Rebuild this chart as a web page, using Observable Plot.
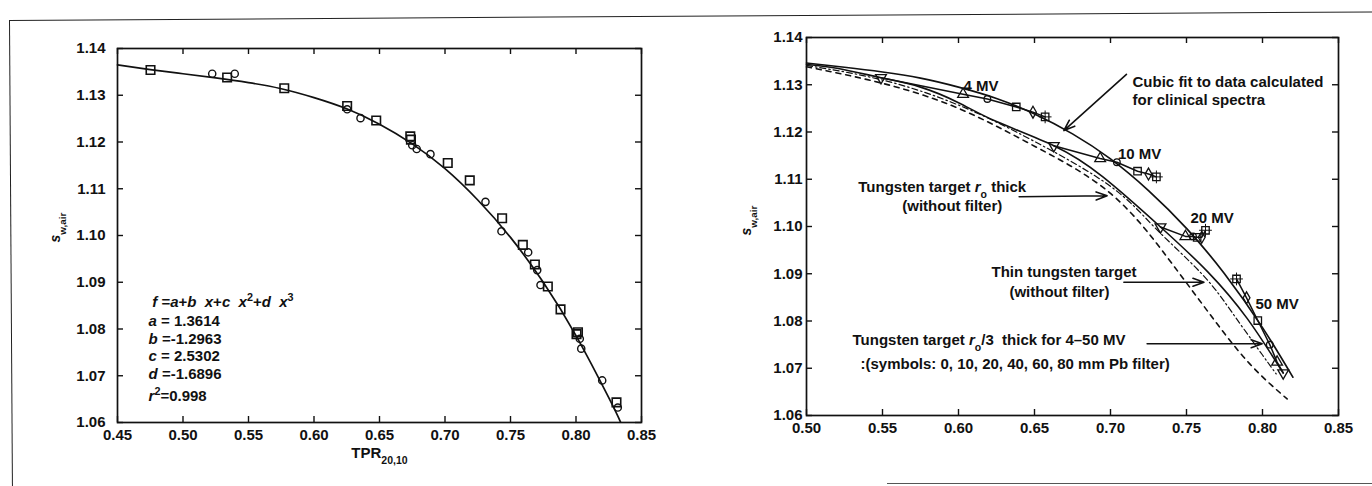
<!DOCTYPE html>
<html><head><meta charset="utf-8">
<script src="https://cdn.jsdelivr.net/npm/d3@7"></script>
<script src="https://cdn.jsdelivr.net/npm/@observablehq/plot@0.6"></script>
<style>
body{margin:0;background:#fff;}
#wrap{position:relative;width:1372px;height:486px;overflow:hidden;background:#fff;}
#wrap svg{position:absolute;top:0;}
svg text{white-space:pre;}
.box{position:absolute;left:9px;top:20px;width:1372px;height:480px;border-top:1.6px solid #222;border-left:1.6px solid #222;transform-origin:0 0;transform:rotate(-0.36deg);}
.bl{position:absolute;left:887px;top:483px;width:485px;border-top:1.6px solid #555;}
</style></head><body>
<div id="wrap"><div class="box"></div><div class="bl"></div></div>
<script>
// ---------- data ----------
const leftXTicks = [0.45,0.50,0.55,0.60,0.65,0.70,0.75,0.80,0.85];
const rightXTicks = [0.50,0.55,0.60,0.65,0.70,0.75,0.80,0.85];
const yTicks = [1.06,1.07,1.08,1.09,1.10,1.11,1.12,1.13,1.14];

// left panel: cubic fit curve
const fitX = [0.45,0.475,0.50,0.525,0.55,0.575,0.60,0.625,0.65,0.675,0.70,0.725,0.75,0.775,0.80,0.825,0.834];
const fitY = [1.1365,1.1355,1.1346,1.1337,1.1327,1.1314,1.1295,1.1271,1.1238,1.1196,1.1143,1.1076,1.0996,1.0900,1.0786,1.0653,1.0601];

// left panel: squares and circles
const sqX = [0.4752,0.5337,0.5773,0.6253,0.6475,0.6735,0.6740,0.7021,0.7189,0.7436,0.7594,0.7686,0.7785,0.7882,0.8004,0.8015,0.8309];
const sqY = [1.1354,1.1338,1.1315,1.1277,1.1246,1.1212,1.1205,1.1155,1.1118,1.1037,1.0980,1.0938,1.0891,1.0842,1.0789,1.0793,1.0643];
const ciX = [0.5223,0.5395,0.6253,0.6355,0.6750,0.6784,0.6889,0.7309,0.7431,0.7635,0.7704,0.7729,0.8029,0.8040,0.8200,0.8319];
const ciY = [1.1346,1.1346,1.1270,1.1251,1.1193,1.1185,1.1174,1.1072,1.1009,1.0964,1.0926,1.0894,1.0779,1.0758,1.0690,1.0632];

// right panel curves
const cubicRX = [0.50,0.525,0.55,0.575,0.60,0.625,0.65,0.675,0.70,0.725,0.75,0.775,0.80,0.82];
const cubicRY = [1.1346,1.1337,1.1327,1.1314,1.1295,1.1271,1.1238,1.1196,1.1143,1.1076,1.0996,1.0900,1.0786,1.0681];
const thirdX = [0.50,0.52,0.549,0.575,0.60,0.625,0.6627,0.695,0.7329,0.764,0.79,0.8136];
const thirdY = [1.1343,1.1335,1.1315,1.1295,1.1262,1.1222,1.1171,1.1105,1.0999,1.0904,1.0805,1.0690];
const thinX = [0.50,0.55,0.60,0.65,0.70,0.73,0.76,0.78,0.80,0.809];
const thinY = [1.1341,1.1310,1.1257,1.1180,1.1085,1.0995,1.0900,1.0818,1.0728,1.0688];
const thickX = [0.50,0.55,0.60,0.65,0.70,0.7373,0.7636,0.79,0.8162];
const thickY = [1.1338,1.1303,1.1250,1.1170,1.1070,1.0935,1.0822,1.0715,1.0635];

// right panel symbols: filters 0,10,20,40,60,80 mm Pb
const filters = [0,10,20,40,60,80];
const energies = ["4 MV","10 MV","20 MV","50 MV"];
const tpr4  = [0.5490,0.6030,0.6190,0.6380,0.6490,0.6570];
const sw4   = [1.1315,1.1280,1.1270,1.1253,1.1242,1.1232];
const tpr10 = [0.6627,0.6932,0.7042,0.7178,0.7250,0.7302];
const sw10  = [1.1171,1.1144,1.1136,1.1117,1.1111,1.1105];
const tpr20 = [0.7329,0.7493,0.7543,0.7570,0.7600,0.7625];
const sw20  = [1.0999,1.0979,1.0979,1.0977,1.0977,1.0992];
const tpr50 = [0.8136,0.8096,0.8048,0.7969,0.7895,0.7829];
const sw50  = [1.0690,1.0713,1.0750,1.0801,1.0849,1.0889];

// annotations
const leftNotes = ["*f* =*a*+*b*  *x*+*c*  *x*^{2}+*d*  *x*^{3}","*a* = 1.3614","*b* =-1.2963","*c* = 2.5302","*d* =-1.6896","*r*^{2}=0.998"];
const leftNoteX = [0.4765,0.4737,0.4737,0.4737,0.4737,0.4737];
const leftNoteY = [1.0858,1.0817,1.0778,1.0741,1.0703,1.0657];

const mvX = [0.6033,0.7049,0.7526,0.7954];
const mvY = [1.1296,1.1152,1.1018,1.0835];

// left-aligned notes
const startNotes = ["Cubic fit to data calculated","for clinical spectra","Tungsten target *r*_{o}/3  thick for 4\u201350 MV",":(symbols: 0, 10, 20, 40, 60, 80 mm Pb filter)"];
const startNoteX = [0.7145,0.7145,0.5303,0.5355];
const startNoteY = [1.1305,1.1267,1.0760,1.0709];
// centred notes
const midNotes = ["Tungsten target *r*_{o} thick","(without filter)","Thin tungsten target","(without filter)"];
const midNoteX = [0.5893,0.5959,0.6694,0.6664];
const midNoteY = [1.1084,1.1042,1.0903,1.0861];

const arrowX1 = [0.7105,0.6399,0.7088,0.7241];
const arrowY1 = [1.1322,1.1063,1.0882,1.0752];
const arrowX2 = [0.6693,0.6978,0.7615,0.7998];
const arrowY2 = [1.1203,1.1065,1.0882,1.0752];

// ---------- helpers ----------
const zip = (xs, ys) => xs.map((x, i) => ({x, y: ys[i]}));
const font = "'Liberation Sans', Arial, Helvetica, sans-serif";
function rich(svg) {
  d3.select(svg).selectAll("text").each(function() {
    const s = this.textContent;
    if (!/\*|_\{|\^\{/.test(s)) return;
    const parts = s.split(/(\*[^*]+\*|_\{[^}]*\}|\^\{[^}]*\})/).filter(p => p !== "");
    const el = d3.select(this);
    el.text(null);
    for (const p of parts) {
      if (p.startsWith("*")) el.append("tspan").attr("font-style", "italic").text(p.slice(1, -1));
      else if (p.startsWith("_{")) el.append("tspan").attr("baseline-shift", "sub").attr("font-size", "0.7em").text(p.slice(2, -1));
      else if (p.startsWith("^{")) el.append("tspan").attr("baseline-shift", "super").attr("font-size", "0.72em").text(p.slice(2, -1));
      else el.append("tspan").text(p);
    }
  });
}
function frameTicks(xt, innerW, innerH) {
  return [
    Plot.tickX(xt, {x: d => d, insetTop: innerH - 6, strokeWidth: 1.4}),
    Plot.tickX(xt, {x: d => d, insetBottom: innerH - 6, strokeWidth: 1.4}),
    Plot.tickY(yTicks, {y: d => d, insetRight: innerW - 6, strokeWidth: 1.4}),
    Plot.tickY(yTicks, {y: d => d, insetLeft: innerW - 6, strokeWidth: 1.4})
  ];
}

// ---------- left panel ----------
const L = {w: 690, h: 486, ml: 117, mr: 49, mt: 48, mb: 64};
const left = Plot.plot({
  width: L.w, height: L.h,
  marginLeft: L.ml, marginRight: L.mr, marginTop: L.mt, marginBottom: L.mb,
  style: {background: "transparent", fontFamily: font, fontSize: "15px", fontWeight: "bold", color: "#111"},
  x: {domain: [0.45, 0.85], ticks: leftXTicks, tickFormat: ".2f", tickSize: 0, tickPadding: 7, label: null},
  y: {domain: [1.06, 1.14], ticks: yTicks, tickFormat: ".2f", tickSize: 0, tickPadding: 12, label: null},
  marks: [
    Plot.frame({stroke: "#111", strokeWidth: 1.7}),
    ...frameTicks(leftXTicks, L.w - L.ml - L.mr, L.h - L.mt - L.mb),
    Plot.line(zip(fitX, fitY), {x: "x", y: "y", curve: "natural", stroke: "#111", strokeWidth: 1.7}),
    Plot.dot(zip(sqX, sqY), {x: "x", y: "y", symbol: "square", r: 4.8, stroke: "#111", fill: "none", strokeWidth: 1.6}),
    Plot.dot(zip(ciX, ciY), {x: "x", y: "y", symbol: "circle", r: 3.6, stroke: "#111", fill: "none", strokeWidth: 1.4}),
    Plot.text(leftNotes, {x: (d, i) => leftNoteX[i], y: (d, i) => leftNoteY[i], text: d => d, textAnchor: "start", fontSize: 15, fill: "#111"}),
    Plot.text(["TPR_{20,10}"], {frameAnchor: "bottom", dy: 35, text: d => d, fontSize: 15, fill: "#111"}),
    Plot.text(["*s*_{w,air}"], {frameAnchor: "left", dx: -62, dy: 7, rotate: -90, text: d => d, fontSize: 14, fill: "#111"})
  ]
});
left.style.left = "0px";
rich(left);

// ---------- right panel ----------
const rows = [];
[[tpr4, sw4], [tpr10, sw10], [tpr20, sw20], [tpr50, sw50]].forEach(([xs, ys], e) => {
  filters.forEach((f, i) => rows.push({energy: energies[e], filter: f, x: xs[i], y: ys[i]}));
});
const dotStyle = {x: "x", y: "y", stroke: "#111", fill: "none", strokeWidth: 1.3};
const R = {w: 682, h: 486, ml: 116, mr: 34, mt: 37, mb: 71};
const right = Plot.plot({
  width: R.w, height: R.h,
  marginLeft: R.ml, marginRight: R.mr, marginTop: R.mt, marginBottom: R.mb,
  style: {background: "transparent", fontFamily: font, fontSize: "15px", fontWeight: "bold", color: "#111"},
  x: {domain: [0.50, 0.85], ticks: rightXTicks, tickFormat: ".2f", tickSize: 0, tickPadding: 7, label: null},
  y: {domain: [1.06, 1.14], ticks: yTicks, tickFormat: ".2f", tickSize: 0, tickPadding: 4, label: null},
  marks: [
    Plot.frame({stroke: "#111", strokeWidth: 1.7}),
    ...frameTicks(rightXTicks, R.w - R.ml - R.mr, R.h - R.mt - R.mb),
    Plot.line(zip(thickX, thickY), {x: "x", y: "y", curve: "natural", stroke: "#111", strokeWidth: 1.6, strokeDasharray: "5,5"}),
    Plot.line(zip(thinX, thinY), {x: "x", y: "y", curve: "natural", stroke: "#111", strokeWidth: 1.2, strokeDasharray: "6,3,1.5,3"}),
    Plot.line(zip(thirdX, thirdY), {x: "x", y: "y", curve: "natural", stroke: "#111", strokeWidth: 1.6}),
    Plot.line(zip(cubicRX, cubicRY), {x: "x", y: "y", curve: "natural", stroke: "#111", strokeWidth: 1.7}),
    Plot.line(rows, {x: "x", y: "y", z: "energy", stroke: "#111", strokeWidth: 1.5}),
    Plot.dot(rows.filter(d => d.filter === 0), {...dotStyle, symbol: "triangle", rotate: 180, r: 4}),
    Plot.dot(rows.filter(d => d.filter === 10), {...dotStyle, symbol: "triangle", r: 4}),
    Plot.dot(rows.filter(d => d.filter === 20), {...dotStyle, symbol: "circle", r: 3.3}),
    Plot.dot(rows.filter(d => d.filter === 40), {...dotStyle, symbol: "square", r: 4.2}),
    Plot.dot(rows.filter(d => d.filter === 60), {...dotStyle, symbol: "diamond", r: 3.6}),
    Plot.dot(rows.filter(d => d.filter === 80), {...dotStyle, symbol: "square", r: 4.2}),
    Plot.dot(rows.filter(d => d.filter === 80), {...dotStyle, symbol: "plus", r: 4.2, strokeWidth: 1}),
    Plot.text(energies, {x: (d, i) => mvX[i], y: (d, i) => mvY[i], text: d => d, textAnchor: "start", fontSize: 15, fill: "#111"}),
    Plot.text(startNotes, {x: (d, i) => startNoteX[i], y: (d, i) => startNoteY[i], text: d => d, textAnchor: "start", fontSize: 15, fill: "#111"}),
    Plot.text(midNotes, {x: (d, i) => midNoteX[i], y: (d, i) => midNoteY[i], text: d => d, textAnchor: "middle", fontSize: 15, fill: "#111"}),
    Plot.arrow(arrowX1.map((x, i) => ({x1: x, y1: arrowY1[i], x2: arrowX2[i], y2: arrowY2[i]})), {x1: "x1", y1: "y1", x2: "x2", y2: "y2", stroke: "#111", strokeWidth: 1.6, headLength: 11, headAngle: 40}),
    Plot.text(["*s*_{w,air}"], {frameAnchor: "left", dx: -60, dy: 9, rotate: -90, text: d => d, fontSize: 14, fill: "#111"})
  ]
});
right.style.left = "690px";
rich(right);

const wrap = document.getElementById("wrap");
wrap.appendChild(left);
wrap.appendChild(right);
</script>
</body></html>
